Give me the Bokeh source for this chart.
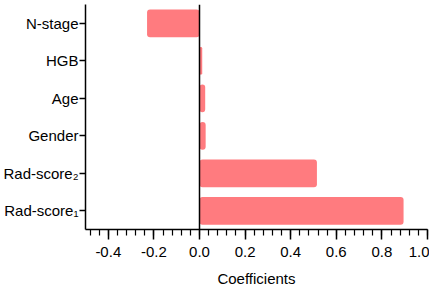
from bokeh.plotting import figure
from bokeh.models import FixedTicker, Span, ColumnDataSource
from bokeh.embed import file_html
from bokeh.resources import INLINE

categories = ["Rad-score\u2081", "Rad-score\u2082", "Gender", "Age", "HGB", "N-stage"]
coefficients = [0.895, 0.515, 0.027, 0.025, 0.012, -0.23]
x_ticks = [-0.4, -0.2, 0.0, 0.2, 0.4, 0.6, 0.8, 1.0]
x_minor = [round(-0.48 + 0.04 * i, 2) for i in range(38)]

src = ColumnDataSource(dict(cat=categories, val=coefficients))

p = figure(width=429, height=289, y_range=categories, x_range=(-0.5, 1.0),
           output_backend="svg", toolbar_location=None,
           min_border_left=76, min_border_right=2, min_border_top=4, min_border_bottom=0)
p.hbar(y="cat", left=0, right="val", height=0.74, source=src,
       fill_color="#FF7B7F", line_color=None, border_radius=3)
p.y_range.range_padding = 0
p.add_layout(Span(location=0, dimension="height", line_color="black", line_width=1.5))

p.outline_line_color = None
p.xgrid.grid_line_color = None
p.ygrid.grid_line_color = None

font = "Liberation Sans"
xa = p.xaxis[0]
xa.ticker = FixedTicker(ticks=x_ticks, minor_ticks=x_minor)
xa.major_label_overrides = {v: f"{v:.1f}" for v in x_ticks}
xa.axis_label = "Coefficients"
xa.axis_label_text_font = font
xa.axis_label_text_font_style = "normal"
xa.axis_label_text_font_size = "15px"
xa.axis_label_text_color = "black"
xa.axis_label_standoff = 10
xa.major_label_text_font = font
xa.major_label_text_font_size = "15px"
xa.major_label_text_color = "black"
xa.major_label_standoff = 7
xa.major_tick_out = 10
xa.major_tick_in = 0
xa.minor_tick_out = 6
xa.minor_tick_in = 0
xa.axis_line_width = 1.5
xa.major_tick_line_width = 1.5
xa.minor_tick_line_width = 1.2

ya = p.yaxis[0]
ya.major_label_text_font = font
ya.major_label_text_font_size = "15px"
ya.major_label_text_color = "black"
ya.major_label_standoff = 1
ya.major_tick_out = 6
ya.major_tick_in = 0
ya.axis_line_width = 1.5
ya.major_tick_line_width = 1.5

open("out.html", "w").write(file_html(p, INLINE))
